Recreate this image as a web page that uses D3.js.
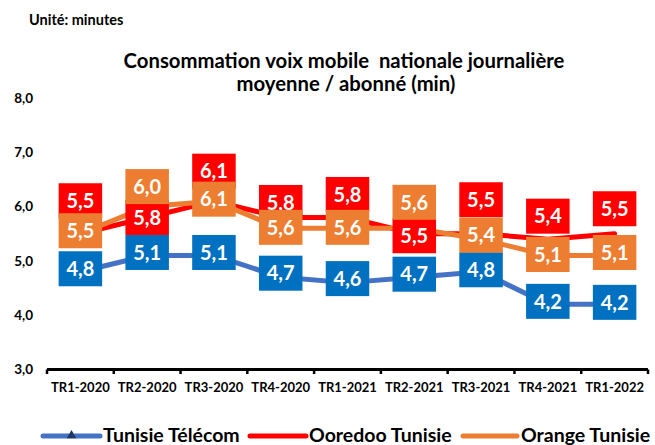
<!DOCTYPE html>
<html><head><meta charset="utf-8">
<script src="https://cdn.jsdelivr.net/npm/d3@7"></script>
<style>
html,body{margin:0;padding:0;background:#fff;}
svg{display:block;font-family:Lato,"Open Sans",sans-serif;}
</style></head>
<body>
<svg id="chart" width="655" height="445"></svg>
<script>
const categories = ["TR1-2020","TR2-2020","TR3-2020","TR4-2020","TR1-2021","TR2-2021","TR3-2021","TR4-2021","TR1-2022"];
const tunisieTelecom = [4.8,5.1,5.1,4.7,4.6,4.7,4.8,4.2,4.2];
const ooredoo = [5.5,5.8,6.1,5.8,5.8,5.5,5.5,5.4,5.5];
const orange = [5.5,6.0,6.1,5.6,5.6,5.6,5.4,5.1,5.1];
const yTicks = [3,4,5,6,7,8];
const seriesNames = ["Tunisie Télécom","Ooredoo Tunisie","Orange Tunisie"];

// label vertical offsets (px) relative to point
const ttLabelDy = [-3,-3,-3,-4,-4,-3,-2,-3,-2];
const ooLabelDy = [-33,0,-30,-15,-23,2,-34,-23,-25];
const orLabelDy = [-3,-20,-2,-1,-1,-26,-4,-1,-3];

const svg = d3.select("#chart");
const x = d3.scaleBand().domain(categories).range([47,648]);
const y = d3.scaleLinear().domain([3,8]).range([369.5,98]);
const fmt = v => d3.format(".1f")(v).replace(".", ",");

// title
svg.append("text").attr("x",29).attr("y",25).attr("font-size",14.5).attr("font-weight","bold").attr("fill","#000").text("Unité: minutes");
const title = svg.append("text").attr("text-anchor","middle").attr("font-size",20.3).attr("font-weight","bold").attr("fill","#000");
title.append("tspan").attr("x",344).attr("y",68).attr("xml:space","preserve").text("Consommation voix mobile  nationale journalière");
title.append("tspan").attr("x",346).attr("y",91).text("moyenne / abonné (min)");

// y axis labels
const yAxis = d3.axisLeft(y).tickValues(yTicks).tickFormat(fmt).tickSize(0).tickPadding(0);
const yg = svg.append("g").attr("transform","translate(33,0)").call(yAxis);
yg.select(".domain").remove();
yg.selectAll("text").attr("font-size",13.5).attr("font-weight","bold").attr("fill","#000").attr("font-family","Lato,'Open Sans',sans-serif");

// x axis
const xAxis = d3.axisBottom(x).tickSize(0).tickPadding(13);
const xg = svg.append("g").attr("transform","translate(0,369.5)").call(xAxis);
xg.select(".domain").remove();
xg.selectAll("text").attr("font-size",13).attr("font-weight","bold").attr("fill","#000").attr("font-family","Lato,'Open Sans',sans-serif");
svg.append("line").attr("x1",x.range()[0]).attr("x2",x.range()[1]).attr("y1",369.5).attr("y2",369.5).attr("stroke","#000").attr("stroke-width",3);
const bounds = categories.map(c => x(c)).concat([x.range()[1]]);
svg.selectAll(".xtick").data(bounds).enter().append("line")
  .attr("x1",d=>d).attr("x2",d=>d).attr("y1",369.5).attr("y2",374).attr("stroke","#000").attr("stroke-width",2.5);

const cx = c => x(c) + x.bandwidth()/2;
const series = [
  {vals: tunisieTelecom, line:"#4472C4", box:"#0070C0", dy: ttLabelDy},
  {vals: ooredoo, line:"#FF0000", box:"#FF0000", dy: ooLabelDy},
  {vals: orange, line:"#ED7D31", box:"#ED7D31", dy: orLabelDy}
];
const lineGen = d3.line().x((d,i)=>cx(categories[i])).y(d=>y(d));
series.forEach(s => {
  svg.append("path").datum(s.vals).attr("d",lineGen).attr("fill","none").attr("stroke",s.line).attr("stroke-width",5).attr("stroke-linejoin","round").attr("stroke-linecap","round");
});
const bw = 43.5, bh = 35;
series.forEach(s => {
  const g = svg.append("g");
  s.vals.forEach((v,i) => {
    const px = cx(categories[i]), py = y(v) + s.dy[i];
    g.append("rect").attr("x",px-bw/2).attr("y",py-bh/2).attr("width",bw).attr("height",bh).attr("fill",s.box);
    g.append("text").attr("x",px).attr("y",py).attr("dy","0.36em").attr("text-anchor","middle")
      .attr("font-size",20).attr("font-weight","bold").attr("fill","#fff").text(fmt(v));
  });
});

// legend
const legendItems = [
  {name: seriesNames[0], color:"#4472C4", x1:43, x2:100, tx:103, marker:true},
  {name: seriesNames[1], color:"#FF0000", x1:250, x2:306, tx:309},
  {name: seriesNames[2], color:"#ED7D31", x1:463, x2:517, tx:521}
];
const lg = svg.append("g");
legendItems.forEach(d => {
  lg.append("line").attr("x1",d.x1).attr("x2",d.x2).attr("y1",436).attr("y2",436).attr("stroke",d.color).attr("stroke-width",5).attr("stroke-linecap","round");
  if (d.marker) {
    const mx = (d.x1+d.x2)/2;
    lg.append("path").attr("d",d3.symbol(d3.symbolTriangle,40)()).attr("transform",`translate(${mx},435.5)`).attr("fill","#1F3864");
  }
  lg.append("text").attr("x",d.tx).attr("y",441.5).attr("font-size",19.5).attr("font-weight","bold").attr("fill","#000").text(d.name);
});
</script>
</body></html>
